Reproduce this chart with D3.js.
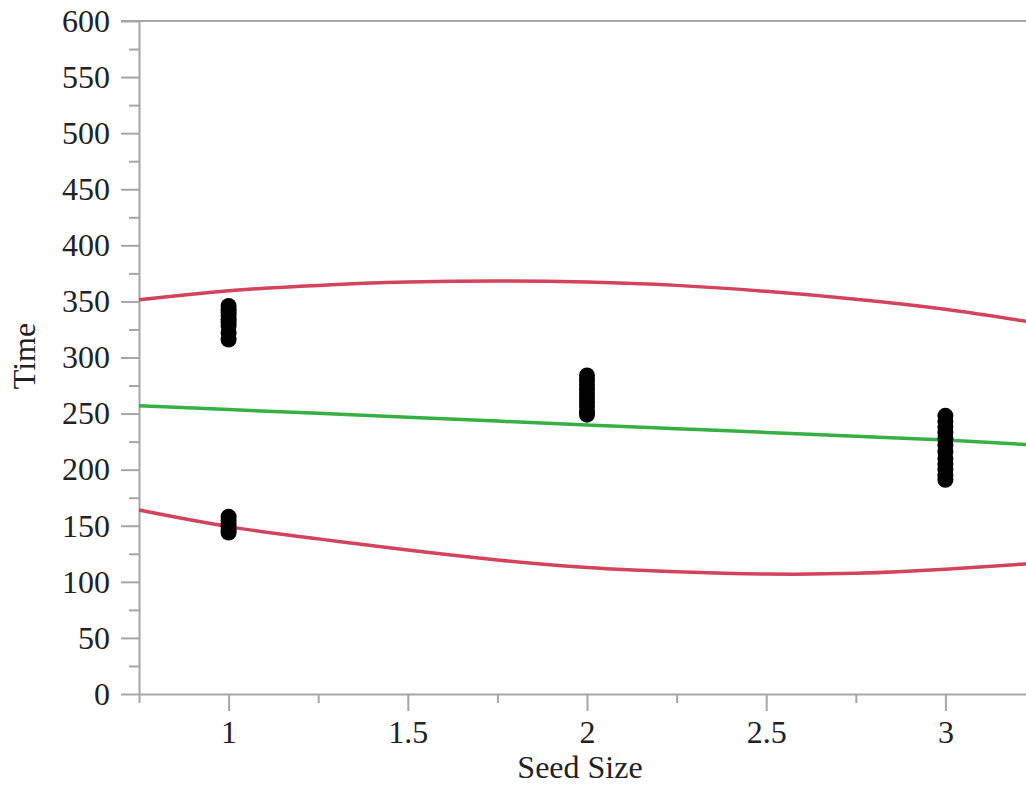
<!doctype html>
<html lang="en">
<head>
<meta charset="UTF-8">
<title>Time vs Seed Size</title>
<script src="https://d3js.org/d3.v7.min.js"></script>
<style>
  html, body { margin: 0; padding: 0; background: #fff; overflow: hidden; }
  svg { display: block; }
</style>
</head>
<body>
<div id="chart"></div>
<script>
  // observations: seed size -> time
  const seedSize = [1, 1, 1, 1, 1, 1, 1, 1, 1, 1, 1, 1, 1, 1, 1,
                    2, 2, 2, 2, 2, 2, 2, 2, 2, 2,
                    3, 3, 3, 3, 3, 3, 3, 3, 3, 3, 3, 3];
  const timeValues = [346, 343, 340, 337, 334, 331, 328, 322, 316, 158, 155, 152, 149, 146, 144,
                      284, 280, 276, 272, 268, 264, 260, 256, 252, 249,
                      248, 243, 238, 233, 228, 222, 216, 210, 205, 200, 195, 191];

  // fitted line and bands
  const curveX = [0.75, 1, 1.25, 1.5, 1.75, 2, 2.25, 2.5, 2.75, 3, 3.25];
  const fitLine = [257, 253.6, 250.2, 246.8, 243.3, 239.8, 236.5, 233.2, 229.8, 226.4, 222];
  const upperBand = [351.5, 359.5, 364.3, 367.2, 368.3, 367.3, 364.3, 359, 352, 343, 331];
  const lowerBand = [164, 149.2, 138.3, 128.3, 119.5, 112.8, 109, 107, 107.6, 111.2, 116.5];

  const xTicks = [1, 1.5, 2, 2.5, 3];
  const xMinorTicks = [0.75, 1.25, 1.75, 2.25, 2.75, 3.25];
  const yTicks = d3.range(0, 601, 50);
  const yMinorTicks = d3.range(25, 600, 50);

  const dimensions = {
    width: 1026,
    height: 786,
    left: 139,
    right: 1035,
    top: 21,
    bottom: 694
  };

  const axisColor = '#a6a6a6';
  const textColor = '#222';
  const font = '"Liberation Serif", "Times New Roman", serif';

  const svg = d3.select('#chart')
    .append('svg')
    .attr('width', dimensions.width)
    .attr('height', dimensions.height);

  const xScale = d3.scaleLinear()
    .domain([0.75, 3.25])
    .range([dimensions.left, dimensions.right]);

  const yScale = d3.scaleLinear()
    .domain([0, 600])
    .range([dimensions.bottom, dimensions.top]);

  // top border
  svg.append('line')
    .attr('x1', dimensions.left - 18)
    .attr('x2', dimensions.right)
    .attr('y1', yScale(600))
    .attr('y2', yScale(600))
    .attr('stroke', axisColor)
    .attr('stroke-width', 2);

  function styleAxis(g) {
    g.attr('font-family', font).attr('font-size', 32);
    g.selectAll('line').attr('stroke', axisColor).attr('stroke-width', 2);
    g.selectAll('path').attr('stroke', axisColor).attr('stroke-width', 2);
    g.selectAll('text').attr('fill', textColor);
  }

  // y axis
  svg.append('g')
    .attr('transform', `translate(${dimensions.left},0)`)
    .call(d3.axisLeft(yScale).tickValues(yMinorTicks).tickSize(10).tickFormat(''))
    .call(g => g.select('.domain').remove())
    .call(styleAxis);

  svg.append('g')
    .attr('transform', `translate(${dimensions.left},0)`)
    .call(d3.axisLeft(yScale).tickValues(yTicks).tickSize(18).tickSizeOuter(0).tickPadding(11).tickFormat(d => d))
    .call(styleAxis);

  // x axis
  svg.append('g')
    .attr('transform', `translate(0,${dimensions.bottom})`)
    .call(d3.axisBottom(xScale).tickValues(xMinorTicks).tickSize(9).tickFormat(''))
    .call(g => g.select('.domain').remove())
    .call(styleAxis);

  svg.append('g')
    .attr('transform', `translate(0,${dimensions.bottom})`)
    .call(d3.axisBottom(xScale).tickValues(xTicks).tickSize(17).tickSizeOuter(0).tickPadding(9).tickFormat(d => d))
    .call(styleAxis);

  // axis titles
  svg.append('text')
    .attr('x', 580)
    .attr('y', 778)
    .attr('text-anchor', 'middle')
    .attr('font-family', font)
    .attr('font-size', 32)
    .attr('fill', textColor)
    .text('Seed Size');

  svg.append('text')
    .attr('transform', 'translate(35,356) rotate(-90)')
    .attr('text-anchor', 'middle')
    .attr('font-family', font)
    .attr('font-size', 32)
    .attr('fill', textColor)
    .text('Time');

  // curves
  const lineGenerator = values => d3.line()
    .x((d, i) => xScale(curveX[i]))
    .y(d => yScale(d))
    .curve(d3.curveNatural)(values);

  svg.append('path')
    .attr('d', lineGenerator(upperBand))
    .attr('fill', 'none')
    .attr('stroke', '#d3435b')
    .attr('stroke-width', 3.5);

  svg.append('path')
    .attr('d', lineGenerator(lowerBand))
    .attr('fill', 'none')
    .attr('stroke', '#d3435b')
    .attr('stroke-width', 3.5);

  svg.append('path')
    .attr('d', lineGenerator(fitLine))
    .attr('fill', 'none')
    .attr('stroke', '#36b043')
    .attr('stroke-width', 3.5);

  // points
  svg.append('g')
    .selectAll('circle')
    .data(timeValues)
    .join('circle')
    .attr('cx', (d, i) => xScale(seedSize[i]))
    .attr('cy', d => yScale(d))
    .attr('r', 8)
    .attr('fill', '#000');
</script>
</body>
</html>
